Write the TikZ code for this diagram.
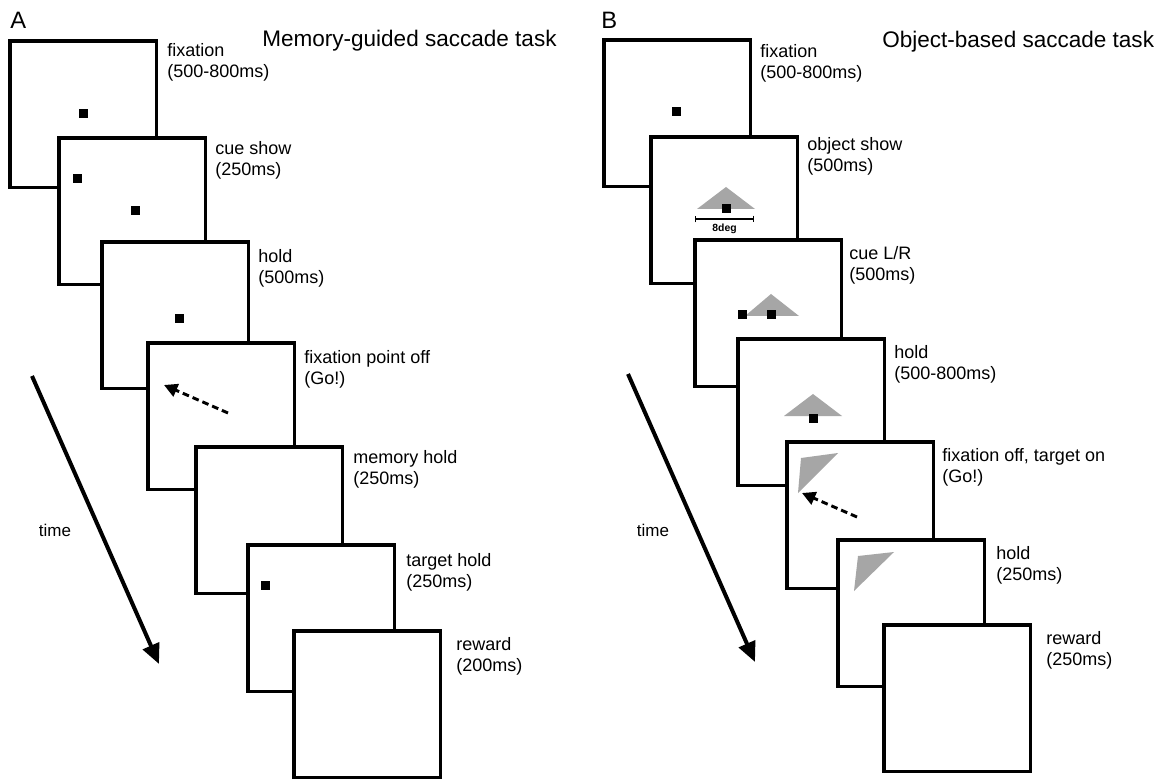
\documentclass[tikz,border=0pt]{standalone}
\usepackage{fontspec}
\setmainfont{Liberation Sans}
\usetikzlibrary{arrows.meta}
\definecolor{objgray}{RGB}{166,166,166}
\begin{document}
\begin{tikzpicture}[x=0.75pt,y=-0.75pt,
  frame/.style={draw=black, fill=white, line width=2.3pt, minimum width=110pt, minimum height=110pt, inner sep=0pt, outer sep=0pt, anchor=north west},
  dot/.style={fill=black, minimum size=6.75pt, inner sep=0pt, outer sep=0pt},
  lab/.style={anchor=north west, align=left, inner sep=0pt, font=\fontsize{13.5}{15.75}\selectfont},
  title/.style={anchor=base west, inner sep=0pt, font=\fontsize{16.9}{20}\selectfont},
  panel/.style={anchor=base west, inner sep=0pt, font=\fontsize{17.8}{20}\selectfont},
  timelab/.style={inner sep=0pt, font=\fontsize{12.75}{15}\selectfont},
  timearrow/.style={line width=3pt, -{Triangle[length=15pt,width=13pt]}},
  goarrow/.style={line width=2.2pt, dash pattern=on 5pt off 3pt, -{Triangle[length=10pt,width=10pt]}},
  obj/.style={fill=objgray}
]
\useasboundingbox (0,0) rectangle (1174,780);

% ---------------- Panel A ----------------
\node[panel] (pA) at (10,29) {A};
\node[title] (tA) at (262,47) {Memory-guided saccade task};

\node[frame] (a1) at (10,41) {};
\node[dot] (a1d) at (83.5,113.5) {};
\node[lab] (a1l) at (167,43) {fixation\\(500-800ms)};

\node[frame] (a2) at (59,138) {};
\node[dot] (a2d1) at (77.5,178.5) {};
\node[dot] (a2d2) at (135,211) {};
\node[lab] (a2l) at (215,141) {cue show\\(250ms)};

\node[frame] (a3) at (102,242) {};
\node[dot] (a3d) at (179,319) {};
\node[lab] (a3l) at (258,249) {hold\\(500ms)};

\node[frame] (a4) at (148,343) {};
\coordinate (a4s) at (228,413);
\coordinate (a4e) at (164,385);
\draw[goarrow] (a4s) -- (a4e);
\node[lab] (a4l) at (304,350) {fixation point off\\(Go!)};

\node[frame] (a5) at (196,447) {};
\node[lab] (a5l) at (353,450) {memory hold\\(250ms)};

\node[frame] (a6) at (248,545) {};
\node[dot] (a6d) at (265,585) {};
\node[lab] (a6l) at (406,553) {target hold\\(250ms)};

\node[frame] (a7) at (294,631) {};
\node[lab] (a7l) at (456,637) {reward\\(200ms)};

\coordinate (ta1) at (32,376);
\coordinate (ta2) at (159,664);
\draw[timearrow] (ta1) -- (ta2);
\node[timelab] (tlA) at (55,530) {time};

% ---------------- Panel B ----------------
\node[panel] (pB) at (601,29) {B};
\node[title] (tB) at (882,48) {Object-based saccade task};

\node[frame] (b1) at (604,40) {};
\node[dot] (b1d) at (676.5,112) {};
\node[lab] (b1l) at (760,44) {fixation\\(500-800ms)};

\node[frame] (b2) at (651,137) {};
\fill[obj] (697,209) -- (726,187) -- (755,209) -- cycle;
\node[dot] (b2d) at (726.5,208.5) {};
\coordinate (s1) at (695,219);
\coordinate (s2) at (754,219);
\draw[line width=1pt, {Bar[width=5pt]}-{Bar[width=5pt]}] (s1) -- (s2);
\node[inner sep=0pt, font=\bfseries\fontsize{7.8}{9}\selectfont] (b2s) at (724.5,229) {8deg};
\node[lab] (b2l) at (807,137) {object show\\(500ms)};

\node[frame] (b3) at (695,240) {};
\fill[obj] (745,316) -- (771,294) -- (799,316) -- cycle;
\node[dot] (b3d1) at (742.5,314.5) {};
\node[dot] (b3d2) at (771.5,314.5) {};
\node[lab] (b3l) at (849,246) {cue L/R\\(500ms)};

\node[frame] (b4) at (738,339) {};
\fill[obj] (784,416) -- (813,394) -- (842,416) -- cycle;
\node[dot] (b4d) at (813.5,418) {};
\node[lab] (b4l) at (894,345) {hold\\(500-800ms)};

\node[frame] (b5) at (787,442) {};
\fill[obj] (801,458) -- (838,453) -- (798,493) -- cycle;
\coordinate (b5s) at (857,517);
\coordinate (b5e) at (802,493);
\draw[goarrow] (b5s) -- (b5e);
\node[lab] (b5l) at (942,448) {fixation off, target on\\(Go!)};

\node[frame] (b6) at (838,540) {};
\fill[obj] (858,556) -- (894,552) -- (854,591) -- cycle;
\node[lab] (b6l) at (996,546) {hold\\(250ms)};

\node[frame] (b7) at (884,625) {};
\node[lab] (b7l) at (1046,631) {reward\\(250ms)};

\coordinate (tb1) at (628,374);
\coordinate (tb2) at (755,662);
\draw[timearrow] (tb1) -- (tb2);
\node[timelab] (tlB) at (653,530) {time};
\end{tikzpicture}
\end{document}
